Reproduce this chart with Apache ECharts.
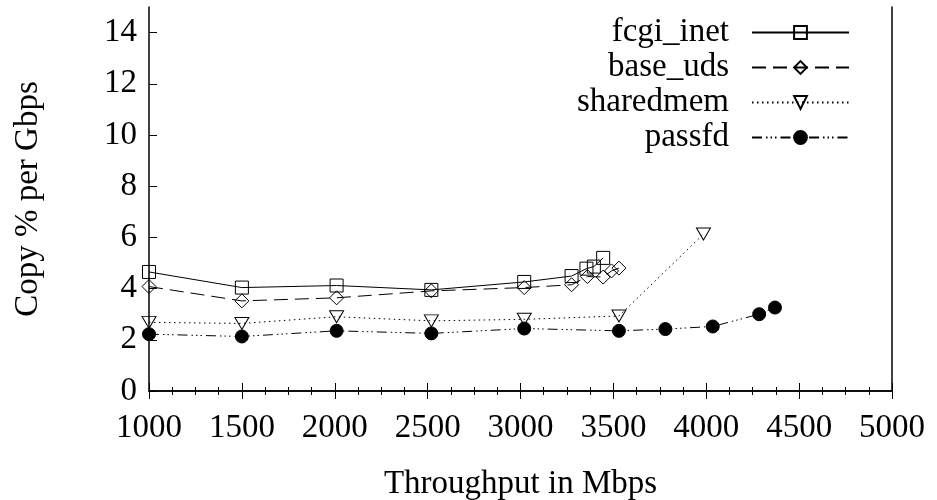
<!DOCTYPE html>
<html lang="en">

<head>
    <meta charset="UTF-8">
    <script src="https://cdn.jsdelivr.net/npm/echarts@6/dist/echarts.min.js"></script>
    <title>Copy % per Gbps</title>
    <style>
        body { margin: 0; background: #fff; }
    </style>
</head>

<body>
    <div id="main" style="width: 937px;height:500px;"></div>
</body>
<script>
    // values
    var fcgiX = [1000, 1500, 2010, 2520, 3020, 3275, 3355, 3395, 3445];
    var fcgiY = [4.65, 4.04, 4.12, 3.95, 4.26, 4.49, 4.78, 4.86, 5.2];
    var baseX = [1000, 1500, 2010, 2520, 3020, 3275, 3360, 3445, 3490, 3530];
    var baseY = [4.08, 3.52, 3.64, 3.91, 4.04, 4.15, 4.47, 4.45, 4.69, 4.8];
    var sharedX = [1000, 1500, 2010, 2520, 3020, 3530, 3985];
    var sharedY = [2.68, 2.64, 2.9, 2.74, 2.8, 2.93, 6.13];
    var passX = [1000, 1500, 2010, 2520, 3020, 3530, 3780, 4035, 4285, 4370];
    var passY = [2.22, 2.13, 2.35, 2.25, 2.44, 2.35, 2.42, 2.52, 3.0, 3.26];

    var font = 'Liberation Serif';

    function pairs(xs, ys) {
        return xs.map(function (x, i) { return [x, ys[i]]; });
    }

    var myChart = echarts.init(document.getElementById('main'));

    var option = {
        animation: false,
        grid: { left: 149, right: 45, top: 7, bottom: 109, outerBoundsMode: 'none' },
        legend: {
            orient: 'vertical',
            right: 87,
            top: 16,
            padding: 0,
            align: 'right',
            itemWidth: 97,
            itemHeight: 16,
            itemGap: 2,
            textStyle: { fontFamily: font, fontSize: 33, color: '#000', lineHeight: 33, padding: [0, 18, 0, 0] },
            data: ['fcgi_inet', 'base_uds', 'sharedmem', 'passfd']
        },
        xAxis: [
            {
                type: 'value', min: 1000, max: 5000, interval: 500,
                name: 'Throughput in Mbps', nameLocation: 'middle', nameGap: 77,
                nameTextStyle: { fontFamily: font, fontSize: 33, color: '#000' },
                axisLine: { lineStyle: { color: '#000', width: 1.5 } },
                axisTick: { inside: true, length: 8, lineStyle: { color: '#000' } },
                minorTick: { show: true, splitNumber: 4, length: 4, lineStyle: { color: '#000' } },
                splitLine: { show: false },
                axisLabel: {
                    fontFamily: font, fontSize: 33, color: '#000', margin: 21,
                    formatter: function (v) { return String(v); }
                }
            },
            {
                type: 'value', position: 'top', min: 1000, max: 5000, interval: 500,
                axisLine: { show: true, lineStyle: { color: '#000', width: 1.5 } },
                axisTick: { inside: true, length: 8, lineStyle: { color: '#000' } },
                minorTick: { show: true, splitNumber: 4, length: 4, lineStyle: { color: '#000' } },
                splitLine: { show: false },
                axisLabel: { show: false }
            }
        ],
        yAxis: [
            {
                type: 'value', min: 0, max: 15, interval: 2,
                name: 'Copy % per Gbps', nameLocation: 'middle', nameGap: 104,
                nameTextStyle: { fontFamily: font, fontSize: 33, color: '#000' },
                axisLine: { show: true, lineStyle: { color: '#000', width: 1.5 } },
                axisTick: { show: true, inside: true, length: 8, lineStyle: { color: '#000' } },
                splitLine: { show: false },
                axisLabel: { fontFamily: font, fontSize: 33, color: '#000', margin: 12, showMaxLabel: false }
            },
            {
                type: 'value', position: 'right', min: 0, max: 15,
                axisLine: { show: true, lineStyle: { color: '#000', width: 1.5 } },
                axisTick: { show: false },
                splitLine: { show: false },
                axisLabel: { show: false }
            }
        ],
        series: [
            {
                name: 'fcgi_inet', type: 'line', data: pairs(fcgiX, fcgiY),
                symbol: 'rect', symbolSize: 13,
                itemStyle: { color: 'rgba(0,0,0,0)', borderColor: '#000', borderWidth: 1 },
                lineStyle: { color: '#000', width: 1, type: 'solid' }
            },
            {
                name: 'base_uds', type: 'line', data: pairs(baseX, baseY),
                symbol: 'diamond', symbolSize: 14,
                itemStyle: { color: 'rgba(0,0,0,0)', borderColor: '#000', borderWidth: 1 },
                lineStyle: { color: '#000', width: 1, type: [14, 7] }
            },
            {
                name: 'sharedmem', type: 'line', data: pairs(sharedX, sharedY),
                symbol: 'triangle', symbolSize: [14, 12], symbolRotate: 180,
                itemStyle: { color: 'rgba(0,0,0,0)', borderColor: '#000', borderWidth: 1 },
                lineStyle: { color: '#000', width: 1, type: [1.5, 3.5] }
            },
            {
                name: 'passfd', type: 'line', data: pairs(passX, passY),
                symbol: 'circle', symbolSize: 13,
                itemStyle: { color: '#000', borderColor: '#000', borderWidth: 1 },
                lineStyle: { color: '#000', width: 1, type: [10, 4, 1.5, 3, 1.5, 3, 1.5, 4] }
            }
        ]
    };
    myChart.setOption(option);
</script>

</html>
